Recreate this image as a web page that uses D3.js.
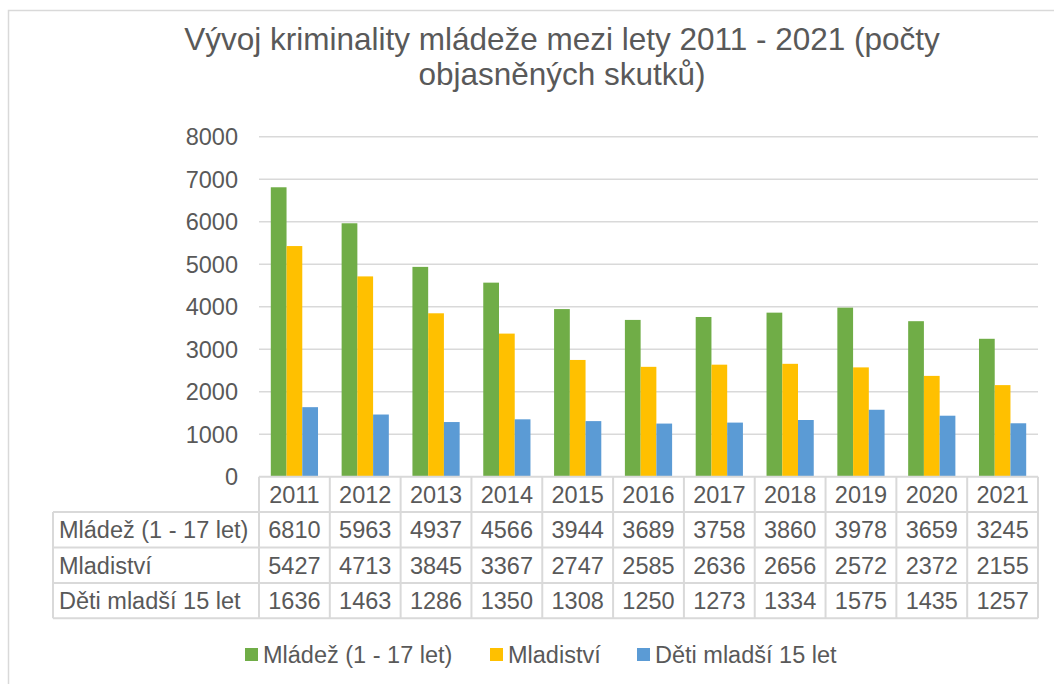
<!DOCTYPE html>
<html>
<head>
<meta charset="utf-8">
<script src="https://cdn.jsdelivr.net/npm/d3@7"></script>
<style>
  body { margin: 0; background: #fff; }
  svg text { font-family: "Liberation Sans", Arial, sans-serif; fill: #595959; }
</style>
</head>
<body>
<svg class="chart"></svg>
<script>
// data
const years = ["2011", "2012", "2013", "2014", "2015", "2016", "2017", "2018", "2019", "2020", "2021"];
const seriesNames = ["Mládež (1 - 17 let)", "Mladiství", "Děti mladší 15 let"];
const mladez = [6810, 5963, 4937, 4566, 3944, 3689, 3758, 3860, 3978, 3659, 3245];
const mladistvi = [5427, 4713, 3845, 3367, 2747, 2585, 2636, 2656, 2572, 2372, 2155];
const deti = [1636, 1463, 1286, 1350, 1308, 1250, 1273, 1334, 1575, 1435, 1257];
const yTicks = [0, 1000, 2000, 3000, 4000, 5000, 6000, 7000, 8000];
const titleLines = ["Vývoj kriminality mládeže mezi lety 2011 - 2021 (počty", "objasněných skutků)"];

const colors = ["#70ad47", "#ffc000", "#5b9bd5"];
const allSeries = [mladez, mladistvi, deti];

const canvas = {width: 1054, height: 684};
const plot = {left: 259, right: 1038, top: 136.7, bottom: 476.7};
const rowH = 35.4;
const labelLeft = 53;
const gridColor = "#d9d9d9";

const svg = d3.select(".chart")
    .attr("width", canvas.width)
    .attr("height", canvas.height);

// outer chart frame
svg.append("rect")
    .attr("x", 8.5).attr("y", 10.5)
    .attr("width", 1100).attr("height", 800)
    .attr("fill", "none")
    .attr("stroke", gridColor)
    .attr("stroke-width", 1.5);

// title
svg.append("text")
    .attr("text-anchor", "middle")
    .attr("font-size", 31.5)
    .selectAll("tspan")
    .data(titleLines)
    .enter().append("tspan")
    .attr("x", 562)
    .attr("y", (d, i) => 50 + i * 35)
    .text(d => d);

const x = d3.scaleBand().domain(years).range([plot.left, plot.right]).paddingInner(0).paddingOuter(0);
const y = d3.scaleLinear().domain([0, 8000]).range([plot.bottom, plot.top]);

// bars sit inside each year band with a 150% gap
const barW = x.bandwidth() / 4.5;
const xs = d3.scaleBand().domain(d3.range(3))
    .range([barW * 0.75, barW * 3.75]);

// gridlines
svg.append("g")
    .selectAll("line")
    .data(yTicks.filter(d => d > 0))
    .enter().append("line")
    .attr("x1", plot.left).attr("x2", plot.right)
    .attr("y1", d => y(d)).attr("y2", d => y(d))
    .attr("stroke", gridColor)
    .attr("stroke-width", 1.5);

// y axis labels
const yAxis = d3.axisLeft(y).tickValues(yTicks).tickFormat(d3.format("d")).tickSize(0).tickPadding(21);
const gy = svg.append("g")
    .attr("transform", "translate(" + plot.left + ",0)")
    .call(yAxis);
gy.select(".domain").remove();
gy.selectAll("text")
    .attr("font-size", 23.5)
    .attr("font-family", null)
    .attr("fill", "#595959")
    .attr("dy", "0.35em");

// bars
allSeries.forEach(function (vals, si) {
    svg.append("g")
        .selectAll("rect")
        .data(vals)
        .enter().append("rect")
        .attr("x", (d, i) => x(years[i]) + xs(si))
        .attr("width", xs.bandwidth())
        .attr("y", d => y(d))
        .attr("height", d => y(0) - y(d))
        .attr("fill", colors[si]);
});

// data table
const table = svg.append("g");
const tableBottom = plot.bottom + rowH * 4;

// horizontal lines
[0, 1, 2, 3, 4].forEach(function (r) {
    table.append("line")
        .attr("x1", r === 0 ? plot.left : labelLeft)
        .attr("x2", plot.right)
        .attr("y1", plot.bottom + r * rowH)
        .attr("y2", plot.bottom + r * rowH)
        .attr("stroke", gridColor).attr("stroke-width", 2);
});
// vertical lines
table.append("line")
    .attr("x1", labelLeft).attr("x2", labelLeft)
    .attr("y1", plot.bottom + rowH).attr("y2", tableBottom)
    .attr("stroke", gridColor).attr("stroke-width", 2);
years.concat(["end"]).forEach(function (yr, i) {
    const xx = i < years.length ? x(yr) : plot.right;
    table.append("line")
        .attr("x1", xx).attr("x2", xx)
        .attr("y1", plot.bottom).attr("y2", tableBottom)
        .attr("stroke", gridColor).attr("stroke-width", 2);
});

// year header
table.append("g")
    .selectAll("text")
    .data(years)
    .enter().append("text")
    .attr("x", d => x(d) + x.bandwidth() / 2)
    .attr("y", plot.bottom + rowH / 2)
    .attr("dy", "0.36em")
    .attr("text-anchor", "middle")
    .attr("font-size", 23.5)
    .text(d => d);

// value rows
allSeries.forEach(function (vals, si) {
    const rowY = plot.bottom + (si + 1) * rowH + rowH / 2;
    table.append("text")
        .attr("x", labelLeft + 6)
        .attr("y", rowY)
        .attr("dy", "0.36em")
        .attr("font-size", 23.5)
        .text(seriesNames[si]);
    table.append("g")
        .selectAll("text")
        .data(vals)
        .enter().append("text")
        .attr("x", (d, i) => x(years[i]) + x.bandwidth() / 2)
        .attr("y", rowY)
        .attr("dy", "0.36em")
        .attr("text-anchor", "middle")
        .attr("font-size", 23.5)
        .text(d => d);
});

// legend
const legendX = [245, 490, 637];
const legend = svg.append("g");
seriesNames.forEach(function (name, i) {
    legend.append("rect")
        .attr("x", legendX[i]).attr("y", 648)
        .attr("width", 13).attr("height", 13)
        .attr("fill", colors[i]);
    legend.append("text")
        .attr("x", legendX[i] + 18)
        .attr("y", 654.5)
        .attr("dy", "0.36em")
        .attr("font-size", 23.5)
        .text(name);
});
</script>
</body>
</html>
